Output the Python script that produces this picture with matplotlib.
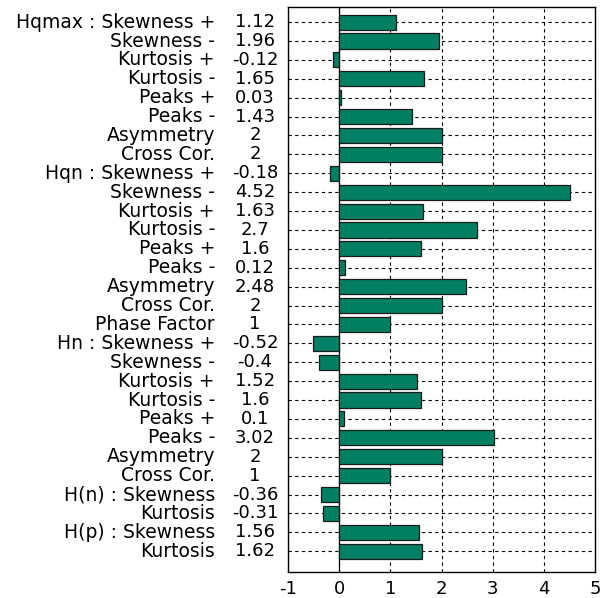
import matplotlib
matplotlib.use("Agg")
import matplotlib.pyplot as plt
import matplotlib.transforms as mtransforms

names = [
    "Hqmax : Skewness +", "Skewness -", "Kurtosis +", "Kurtosis -", "Peaks +",
    "Peaks -", "Asymmetry", "Cross Cor.",
    "Hqn : Skewness +", "Skewness -", "Kurtosis +", "Kurtosis -", "Peaks +",
    "Peaks -", "Asymmetry", "Cross Cor.", "Phase Factor",
    "Hn : Skewness +", "Skewness -", "Kurtosis +", "Kurtosis -", "Peaks +",
    "Peaks -", "Asymmetry", "Cross Cor.",
    "H(n) : Skewness", "Kurtosis",
    "H(p) : Skewness", "Kurtosis",
]
values = [
    1.12, 1.96, -0.12, 1.65, 0.03, 1.43, 2, 2,
    -0.18, 4.52, 1.63, 2.7, 1.6, 0.12, 2.48, 2, 1,
    -0.52, -0.4, 1.52, 1.6, 0.1, 3.02, 2, 1,
    -0.36, -0.31,
    1.56, 1.62,
]
x_ticks = [-1, 0, 1, 2, 3, 4, 5]

plt.rcParams['font.family'] = ['DejaVu Sans']

fig = plt.figure(figsize=(6.0, 5.98), dpi=100)
ax = fig.add_axes([288 / 600, 1 - 572 / 598, (595 - 288) / 600, (572 - 7) / 598])

rows = list(range(len(values)))
ax.barh(rows, values, height=0.8, color='#007F62', edgecolor='#1a1a1a',
        linewidth=0.9, zorder=3)

ax.set_xlim(-1, 5)
ax.set_ylim(len(values) - 1 + 1.1, -0.8)
ax.set_xticks(x_ticks)
ax.set_xticklabels([str(t) for t in x_ticks], fontsize=13)
ax.set_yticks(rows)
ax.set_yticklabels([])
ax.tick_params(axis='both', length=0, pad=6)

ax.grid(True, which='major', axis='both', color='black', linestyle=(0, (3, 3)),
        linewidth=0.8, zorder=1)
ax.axvline(0, color='black', linewidth=0.9, zorder=2)
for s in ax.spines.values():
    s.set_linewidth(1.0)
    s.set_color('black')

trans = mtransforms.blended_transform_factory(ax.transAxes, ax.transData)
for i, (n, v) in enumerate(zip(names, values)):
    ax.text(-0.2378, i, n, transform=trans, ha='right', va='center',
            fontsize=13.5, clip_on=False)
    ax.text(-0.1075, i, f"{v:g}", transform=trans, ha='center', va='center',
            fontsize=13, clip_on=False)

fig.savefig("out.png", dpi=100)
